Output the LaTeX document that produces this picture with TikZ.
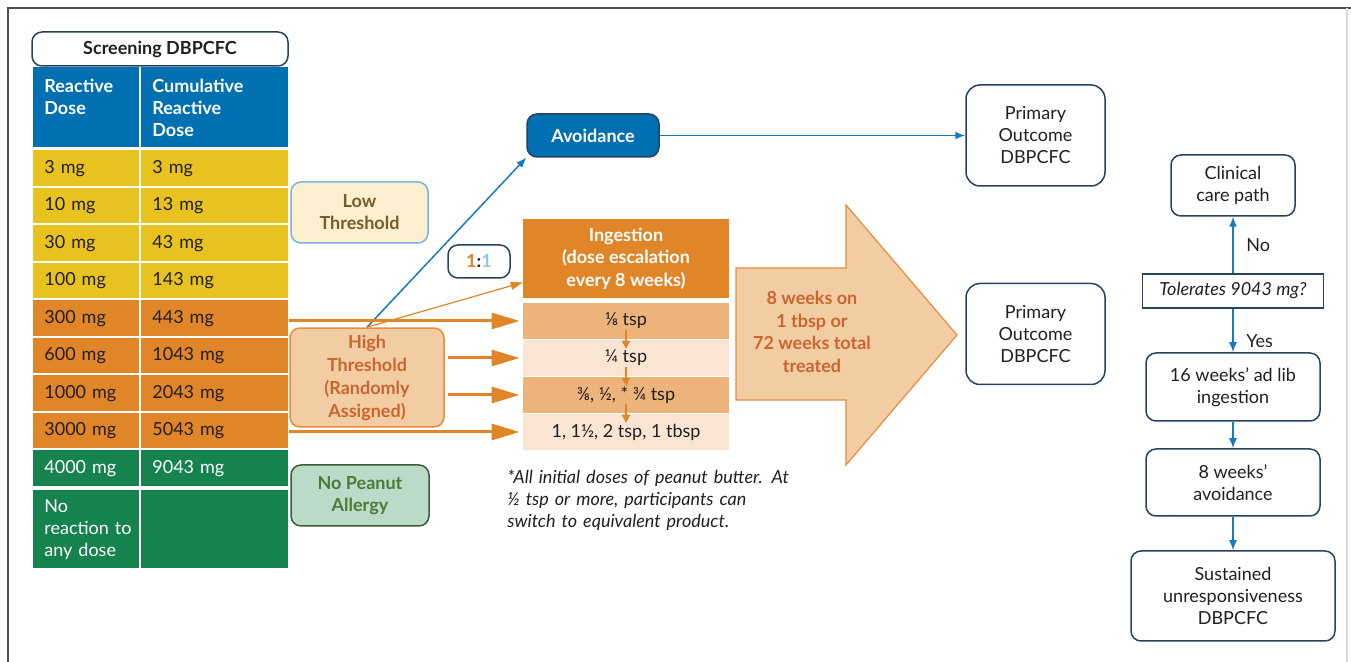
\documentclass[tikz,border=0pt]{standalone}
\usepackage{fontspec}
\setmainfont{Lato}
\usetikzlibrary{positioning,arrows.meta}
\tikzset{>={Latex[length=5pt,width=4pt]}}

\definecolor{tblue}{RGB}{0,112,178}
\definecolor{tyellow}{RGB}{232,194,30}
\definecolor{torange}{RGB}{224,133,40}
\definecolor{tgreen}{RGB}{22,130,78}
\definecolor{rowdark}{RGB}{236,180,122}
\definecolor{rowpale}{RGB}{249,229,210}
\definecolor{peach}{RGB}{242,205,164}
\definecolor{peachline}{RGB}{233,138,62}
\definecolor{peachtext}{RGB}{201,102,46}
\definecolor{creamfill}{RGB}{250,240,208}
\definecolor{creamline}{RGB}{125,178,222}
\definecolor{creamtext}{RGB}{122,92,40}
\definecolor{mintfill}{RGB}{186,219,199}
\definecolor{mintline}{RGB}{62,92,52}
\definecolor{minttext}{RGB}{78,122,56}
\definecolor{slate}{RGB}{40,66,96}
\definecolor{linkblue}{RGB}{22,122,190}
\definecolor{paleblue}{RGB}{150,195,230}
\definecolor{ink}{RGB}{35,31,32}
\definecolor{framegray}{RGB}{80,80,80}

\newcommand{\txt}{\fontsize{9}{11}\selectfont}

\tikzset{
  cell/.style={anchor=north west, inner xsep=5.5pt, inner ysep=0pt, minimum height=17.75pt, align=left, text=ink, font=\txt},
  cellA/.style={text width=42pt, minimum width=53pt},
  cellB/.style={text width=62.5pt, minimum width=73.5pt},
  hcell/.style={cell, fill=tblue, text=white, minimum height=40pt, font=\txt\bfseries},
  roundbox/.style={draw=slate, line width=0.75pt, rounded corners=5pt, fill=white, align=center, text=ink, font=\txt},
  outbox/.style={roundbox, rounded corners=7pt, minimum width=69.5pt, minimum height=50.5pt},
  sidebox/.style={rounded corners=5pt, line width=0.75pt, align=center, font=\txt\bfseries, minimum width=68.5pt, minimum height=30.5pt},
  doserow/.style={minimum width=103pt, minimum height=17.75pt, inner sep=0pt, text=ink, font=\txt},
  bigarr/.style={torange, line width=1.5pt, -{Triangle[length=14pt,width=8pt]}, shorten >=1.5pt},
  steparr/.style={torange, line width=1pt, -{Triangle[length=4pt,width=4pt]}},
  bluearr/.style={linkblue, line width=0.75pt, ->},
}

\begin{document}
\begin{tikzpicture}[x=0.5pt,y=-0.5pt]
\useasboundingbox (0,0) rectangle (1351,662);
% frame
\draw[framegray, line width=1pt] (8,662) -- (8,8) -- (1351,8);
\draw[gray!30, line width=0.8pt] (1347,8) -- (1347,662);

% screening table
\node[roundbox, minimum width=128pt, minimum height=17pt, font=\txt\bfseries] (screen) at (160,49) {Screening DBPCFC};
\node[hcell, cellA] (hA) at (33,67) {Reactive\\Dose\\\phantom{D}};
\node[hcell, cellB] (hB) at (141,67) {Cumulative\\Reactive\\Dose};
\foreach \dose/\cum/\bg/\fg [count=\i] in {3 mg/3 mg/tyellow/ink, 10 mg/13 mg/tyellow/ink,
    30 mg/43 mg/tyellow/ink, 100 mg/143 mg/tyellow/ink, 300 mg/443 mg/torange/ink,
    600 mg/1043 mg/torange/ink, 1000 mg/2043 mg/torange/ink, 3000 mg/5043 mg/torange/ink,
    4000 mg/9043 mg/tgreen/white}{
  \node[cell, cellA, fill=\bg, text=\fg] (a\i) at (33,{112.5+37.5*\i}) {\dose};
  \node[cell, cellB, fill=\bg, text=\fg] (b\i) at (141,{112.5+37.5*\i}) {\cum};
}
\node[cell, cellA, fill=tgreen, text=white, minimum height=39pt] (a10) at (33,490) {No\\\mbox{reaction to}\\\mbox{any dose}};
\node[cell, cellB, fill=tgreen, minimum height=39pt] (b10) at (141,490) {};

% threshold groups
\node[sidebox, draw=creamline, fill=creamfill, text=creamtext] (low) at (359.5,212.5) {Low\\Threshold};
\node[sidebox, draw=peachline, fill=peach, text=peachtext, minimum width=77pt, minimum height=46.5pt,
  font=\fontsize{9}{11.5}\selectfont\bfseries] (high) at (367,377.5) {High\\Threshold\\(Randomly\\Assigned)};
\node[sidebox, draw=mintline, fill=mintfill, text=minttext, minimum width=69pt] (nopeanut) at (360,495.5) {No Peanut\\Allergy};
\node[roundbox, minimum width=31pt, minimum height=16.5pt, font=\txt\bfseries] (ratio) at (479,261.5)
  {\textcolor{torange}{1}:\textcolor{paleblue}{1}};

% study arms
\node[roundbox, fill=tblue, text=white, minimum width=66pt, minimum height=21.5pt, font=\txt\bfseries] (avoid) at (593,135.5) {Avoidance};
\node[fill=torange, text=white, minimum width=103pt, minimum height=39.5pt, inner sep=0pt, align=center,
  font=\fontsize{9}{11.25}\selectfont\bfseries] (ingest) at (626,258.5) {Ingestion\\(dose escalation\\every 8 weeks)};
\node[doserow, fill=rowdark, below of=ingest, node distance=31.25pt] (r1) {⅛ tsp};
\node[doserow, fill=rowpale, below of=r1, node distance=18.5pt] (r2) {¼ tsp};
\node[doserow, fill=rowdark, below of=r2, node distance=18.5pt] (r3) {⅜, ½, * ¾ tsp};
\node[doserow, fill=rowpale, below of=r3, node distance=18.5pt] (r4) {1, 1½, 2 tsp, 1 tbsp};
\node[anchor=north west, align=left, text width=160pt, inner sep=0pt, text=ink,
  font=\fontsize{9}{11}\selectfont\itshape] (note) at (507,470)
  {*All initial doses of peanut butter. At\\½ tsp or more, participants can\\switch to equivalent product.};

% treatment arrow
\draw[draw=peachline, fill=peach, line width=0.6pt] (736,268) -- (846,268) -- (846,205) -- (957,335)
  -- (846,465) -- (846,400) -- (736,400) -- cycle;
\node[align=center, text=peachtext, font=\fontsize{9}{11.25}\selectfont\bfseries] (treat) at (812,332)
  {8 weeks on\\1 tbsp or\\72 weeks total\\treated};

% outcomes
\node[outbox] (prim1) at (1035.5,135.5) {Primary\\Outcome\\DBPCFC};
\node[outbox] (prim2) at (1035.5,334) {Primary\\Outcome\\DBPCFC};

% follow-up path
\node[roundbox, minimum width=62pt, minimum height=30.5pt] (care) at (1233,185.5) {Clinical\\care path};
\node[draw=slate, line width=0.6pt, minimum width=90.5pt, minimum height=17pt, text=ink,
  font=\txt\itshape, below of=care, node distance=52.75pt] (tol) {Tolerates 9043 mg?};
\node[roundbox, minimum width=87pt, minimum height=34pt, below of=tol, node distance=48pt] (wk16) {16 weeks’ ad lib\\ingestion};
\node[roundbox, minimum width=87pt, minimum height=33.5pt, below of=wk16, node distance=47.75pt] (wk8) {8 weeks’\\avoidance};
\node[roundbox, minimum width=102pt, minimum height=45pt, below of=wk8, node distance=56.75pt] (sust) {Sustained\\unresponsiveness\\DBPCFC};

% connectors
\draw[bluearr] (avoid.east) -- (prim1.west);
\draw[bluearr] (high.north) -- (avoid.south west);
\draw[torange, line width=0.6pt, -{Triangle[length=6pt,width=4pt]}] (high.north) -- ([yshift=-12pt]ingest.west);
\draw[bigarr] (b5.east |- r1.west) -- (r1.west);
\draw[bigarr, shorten <=1.5pt] (high.east |- r2.west) -- (r2.west);
\draw[bigarr, shorten <=1.5pt] (high.east |- r3.west) -- (r3.west);
\draw[bigarr] (b8.east |- r4.west) -- (r4.west);
\draw[steparr] ([yshift=4.5pt]r1.south) -- ([yshift=-4.5pt]r2.north);
\draw[steparr] ([yshift=4.5pt]r2.south) -- ([yshift=-4.5pt]r3.north);
\draw[steparr] ([yshift=4.5pt]r3.south) -- ([yshift=-4.5pt]r4.north);
\draw[bluearr] (tol) -- node[right=3pt, text=ink, font=\txt] {No} (care);
\draw[bluearr] (tol) -- node[right=3pt, pos=0.75, text=ink, font=\txt] {Yes} (wk16);
\draw[bluearr] (wk16) -- (wk8);
\draw[bluearr] (wk8) -- (sust);
\end{tikzpicture}
\end{document}
